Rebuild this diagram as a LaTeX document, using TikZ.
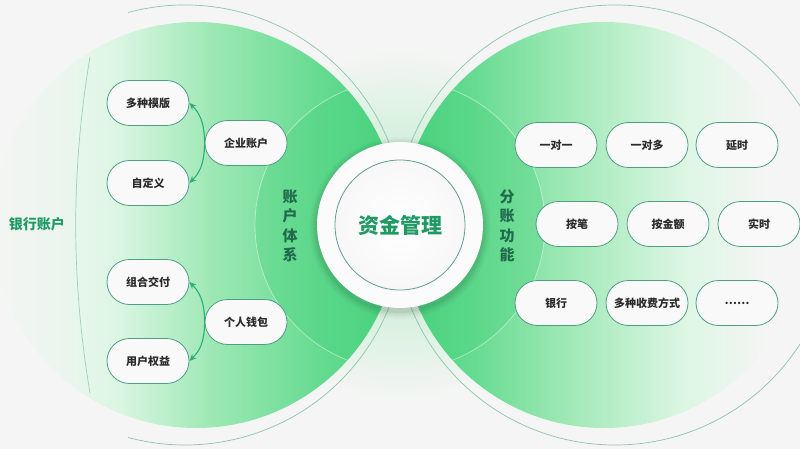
\documentclass[tikz,border=0pt]{standalone}
\usepackage{fontspec}
\setmainfont{Noto Sans CJK SC}
\usetikzlibrary{arrows.meta,calc}
\definecolor{bgc}{HTML}{F4F5F4}
\definecolor{gA}{HTML}{DDF6E4}
\definecolor{gB}{HTML}{9DE8B4}
\definecolor{gC}{HTML}{62DA8F}
\definecolor{gD}{HTML}{48D27D}
\definecolor{linec}{HTML}{8DC4AE}
\definecolor{boxb}{HTML}{4E9E86}
\definecolor{boxf}{HTML}{F8F9F8}
\definecolor{arrc}{HTML}{2BAE78}
\definecolor{titlec}{HTML}{1E9A62}
\definecolor{vtc}{HTML}{1F6B4C}
\definecolor{txt}{HTML}{2B2B2B}
\definecolor{ringb}{HTML}{5E9E92}
\colorlet{gAbg}{bgc!60!gA}
\pgfdeclarehorizontalshading{leftdisk}{100bp}{color(0bp)=(bgc); color(25bp)=(bgc); color(34bp)=(gAbg); color(40bp)=(gA); color(52bp)=(gB); color(66bp)=(gC); color(75bp)=(gD); color(100bp)=(gD)}
\pgfdeclarehorizontalshading{rightdisk}{100bp}{color(0bp)=(gD); color(25bp)=(gD); color(33bp)=(gC); color(45bp)=(gB); color(60bp)=(gA); color(70bp)=(bgc); color(100bp)=(bgc)}
\begin{document}
\begin{tikzpicture}[x=1pt,y=-1pt,
  pill/.style={draw=boxb, line width=0.8pt, fill=boxf, rounded corners=22.5pt,
    minimum width=82pt, minimum height=45pt, inner sep=0pt,
    font=\fontsize{11}{13}\selectfont\bfseries, text=txt},
  arr/.style={draw=arrc, line width=1.1pt, -{Stealth[length=7pt,width=6pt]}},
  vtext/.style={align=center, text=vtc, font=\fontsize{15}{19.5}\selectfont\bfseries},
  thinline/.style={draw=linec, line width=0.7pt}]
\fill[bgc] (0,0) rectangle (800,449);
\useasboundingbox (0,0) rectangle (800,449);
% pale glow between the disks
\shade[inner color=gB!70!bgc, outer color=bgc] (400,225) circle (175);
% left disk
\begin{scope}
  \clip (196,225) circle (203);
  \shade[shading=leftdisk] (-7,22) rectangle (399,428);
  \fill[gD, opacity=0.35] (400,225) circle (145);
  \draw[white, opacity=0.45, line width=0.8pt] (400,225) circle (145);
\end{scope}
% right disk
\begin{scope}
  \clip (604,225) circle (203);
  \shade[shading=rightdisk] (401,22) rectangle (807,428);
  \fill[gD, opacity=0.35] (400,225) circle (145);
  \draw[white, opacity=0.45, line width=0.8pt] (400,225) circle (145);
\end{scope}
% thin outer arcs
\draw[thinline] ($(185,225)+(-105:220)$) arc[start angle=-105, end angle=105, radius=220];
\draw[thinline] (615,225) circle (220);
\draw[thinline, opacity=0.8] (90,57) .. controls (71,170) and (71,280) .. (90,393);
% centre
\foreach \r/\o in {91/0.02,89/0.03,87/0.04,85/0.05}{
  \fill[black, opacity=\o] (400,228) circle (\r);
}
\fill[white!60!bgc] (400,225) circle (83);
\shade[inner color=white, outer color=bgc!80!white] (400,225) circle (65);
\draw[ringb, line width=0.8pt] (400,225) circle (65);
\node[text=titlec, font=\fontsize{21}{24}\selectfont\bfseries] (title) at (400,225) {资金管理};
% labels
\node[text=titlec, font=\fontsize{14}{16}\selectfont\bfseries] (bank) at (37,224) {银行账户};
\node[vtext] (zhtx) at (290,226) {账\\户\\体\\系};
\node[vtext] (fzgn) at (507,226) {分\\账\\功\\能};
% left nodes
\node[pill] (dm) at (148,103) {多种模版};
\node[pill] (qy) at (246,143) {企业账户};
\node[pill] (zd) at (148,183) {自定义};
\node[pill] (zh) at (148,282) {组合交付};
\node[pill] (gr) at (246,322) {个人钱包};
\node[pill] (yh) at (148,361) {用户权益};
% arrows
\draw[arr] (qy.west) .. controls ($(qy.west)+(0,-22)$) and ($(dm.east)+(9,9)$) .. (dm.east);
\draw[arr] (qy.west) .. controls ($(qy.west)+(0,22)$) and ($(zd.east)+(9,-9)$) .. (zd.east);
\draw[arr] (gr.west) .. controls ($(gr.west)+(0,-22)$) and ($(zh.east)+(9,9)$) .. (zh.east);
\draw[arr] (gr.west) .. controls ($(gr.west)+(0,22)$) and ($(yh.east)+(9,-9)$) .. (yh.east);
% right nodes
\node[pill] (r11) at (556,145) {一对一};
\node[pill] (r12) at (647,145) {一对多};
\node[pill] (r13) at (737,145) {延时};
\node[pill] (r21) at (577,224) {按笔};
\node[pill] (r22) at (668,224) {按金额};
\node[pill] (r23) at (759,224) {实时};
\node[pill] (r31) at (556,303) {银行};
\node[pill] (r32) at (647,303) {多种收费方式};
\node[pill] (r33) at (737,303) {……};
\end{tikzpicture}
\end{document}
